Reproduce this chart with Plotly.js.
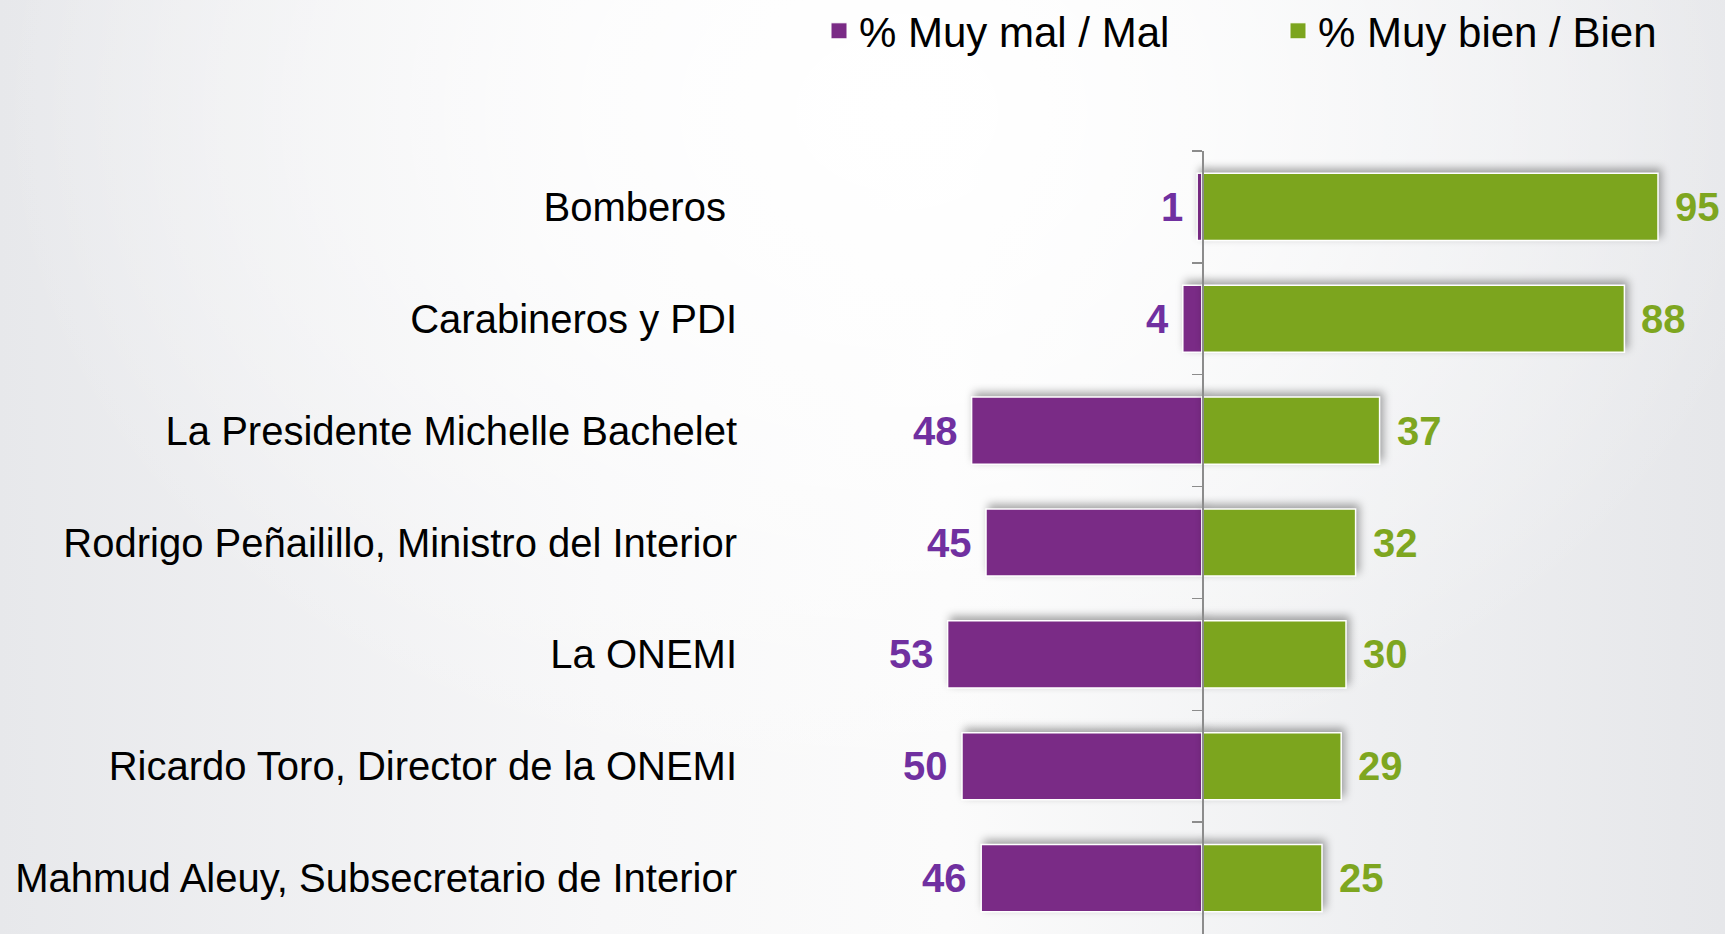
<!DOCTYPE html>
<html>
<head>
<meta charset="utf-8">
<script src="https://cdn.plot.ly/plotly-3.0.1.min.js"></script>
<style>
  html, body { margin: 0; padding: 0; }
  body {
    width: 1725px; height: 934px; overflow: hidden;
    background:
      radial-gradient(ellipse 900px 700px at 52% 12%, rgba(255,255,255,1) 0%, rgba(255,255,255,0.6) 45%, rgba(255,255,255,0) 100%),
      linear-gradient(90deg, #e7e8eb 0%, #f7f7f8 35%, #fbfbfb 55%, #eeeff1 80%, #e6e7ea 100%);
  }
  #chart { width: 1725px; height: 934px; }
  .barlayer .point path { filter: drop-shadow(3px -4px 4px rgba(0,0,0,0.35)); }
</style>
</head>
<body>
<div id="chart"></div>
<script>
const categories = [
  "Bomberos\u00a0",
  "Carabineros y PDI",
  "La Presidente Michelle Bachelet",
  "Rodrigo Peñailillo, Ministro del Interior",
  "La ONEMI",
  "Ricardo Toro, Director de la ONEMI",
  "Mahmud Aleuy, Subsecretario de Interior"
];
const muyMalMal = [1, 4, 48, 45, 53, 50, 46];
const muyBienBien = [95, 88, 37, 32, 30, 29, 25];
const seriesNames = ["% Muy mal / Mal", "% Muy bien / Bien"];

const purple = "#7a2b86";
const green = "#7ca51e";
const purpleText = "#7030a0";
const greenText = "#7ea620";
const FONT = "'Liberation Sans', Arial, sans-serif";

const W = 1725, H = 934;

const traces = [
  {
    type: "bar", orientation: "h", name: seriesNames[0], showlegend: false,
    y: categories, x: muyMalMal.map(v => -v),
    marker: { color: purple, line: { color: "#ffffff", width: 1.5 } },
    hoverinfo: "skip"
  },
  {
    type: "bar", orientation: "h", name: seriesNames[1], showlegend: false,
    y: categories, x: muyBienBien,
    marker: { color: green, line: { color: "#ffffff", width: 1.5 } },
    hoverinfo: "skip"
  },
  {
    type: "scatter", mode: "markers", name: seriesNames[0],
    x: [null], y: [null],
    marker: { symbol: "square", size: 16, color: purple, line: { color: "#ffffff", width: 1 } }
  },
  {
    type: "scatter", mode: "markers", name: seriesNames[1],
    x: [null], y: [null],
    marker: { symbol: "square", size: 16, color: green, line: { color: "#ffffff", width: 1 } }
  }
];

const annotations = [];
categories.forEach((c, i) => {
  annotations.push({
    x: -muyMalMal[i], y: c, xref: "x", yref: "y",
    text: String(muyMalMal[i]), showarrow: false,
    xanchor: "right", yanchor: "middle", xshift: -12,
    font: { family: FONT, size: 40, color: purpleText, weight: "bold" }
  });
  annotations.push({
    x: muyBienBien[i], y: c, xref: "x", yref: "y",
    text: String(muyBienBien[i]), showarrow: false,
    xanchor: "left", yanchor: "middle", xshift: 15,
    font: { family: FONT, size: 40, color: greenText, weight: "bold" }
  });
});

const layout = {
  width: W, height: H,
  margin: { l: 0, r: 0, t: 151, b: 0, pad: 0 },
  paper_bgcolor: "rgba(0,0,0,0)",
  plot_bgcolor: "rgba(0,0,0,0)",
  barmode: "relative",
  bargap: 0.4,
  showlegend: true,
  legend: {
    orientation: "h",
    xref: "container", yref: "container",
    x: 819 / W, xanchor: "left",
    y: 1 - 31 / H, yanchor: "middle",
    font: { family: FONT, size: 42, color: "#000000" },
    bgcolor: "rgba(0,0,0,0)",
    itemsizing: "trace",
    entrywidth: 414, entrywidthmode: "pixels",
    traceorder: "normal"
  },
  xaxis: {
    domain: [914 / W, 1682 / W],
    range: [-60, 100],
    showticklabels: false, showgrid: false, zeroline: false, showline: false, ticks: ""
  },
  yaxis: {
    anchor: "free", position: 1202 / W,
    autorange: "reversed",
    showline: true, linecolor: "#8c8c8c", linewidth: 1.5,
    ticks: "outside", tickson: "boundaries", ticklen: 10, tickcolor: "#8c8c8c", tickwidth: 1.5,
    showgrid: false, zeroline: false,
    ticklabelstandoff: 457,
    tickfont: { family: FONT, size: 40, color: "#000000" }
  },
  annotations: annotations
};

Plotly.newPlot("chart", traces, layout, { displayModeBar: false, staticPlot: true });
</script>
</body>
</html>
